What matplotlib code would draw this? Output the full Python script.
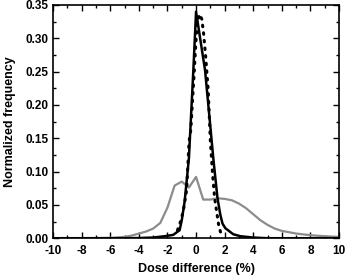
import matplotlib
matplotlib.use("Agg")
import matplotlib.pyplot as plt
from matplotlib.ticker import MultipleLocator

plt.rcParams['font.family'] = ['Liberation Sans', 'DejaVu Sans']
plt.rcParams['font.weight'] = 'bold'

# gray curve (broad distribution)
gray_x = [-10, -8, -6, -5, -4.5, -4, -3.5, -3, -2.5, -2, -1.5, -1, -0.5, 0,
          0.5, 1.0, 1.5, 2.0, 2.5, 3.0, 3.5, 4.0, 4.5, 5.0, 5.5, 6.0, 6.5,
          7.0, 8.0, 9.0, 10.0]
gray_y = [0.0, 0.0, 0.0005, 0.002, 0.004, 0.007, 0.010, 0.0145, 0.023, 0.046,
          0.079, 0.085, 0.076, 0.092, 0.058, 0.058, 0.060, 0.059, 0.057,
          0.052, 0.045, 0.036, 0.027, 0.020, 0.0145, 0.011, 0.009, 0.007,
          0.0045, 0.003, 0.002]

# black solid curve
solid_x = [-10, -5, -4, -3, -2.2, -1.6, -1.15, -1.0, -0.8, -0.5, -0.19, 0.0,
           0.63, 1.22, 1.5, 1.7, 1.85, 2.05, 2.6, 3.1, 4.0, 5.0, 10]
solid_y = [0.0, 0.0, 0.0003, 0.001, 0.003, 0.005, 0.012, 0.027, 0.055, 0.12,
           0.252, 0.34, 0.252, 0.117, 0.06, 0.035, 0.022, 0.015, 0.006,
           0.003, 0.001, 0.0, 0.0]

# black dotted curve (fit)
dot_x = [-1.3, -1.1, -0.9, -0.66, -0.49, -0.37, -0.14, -0.02, 0.1, 0.25,
         0.4, 0.52, 0.67, 0.85, 1.0, 1.16, 1.3, 1.46, 1.58, 1.7, 1.85]
dot_y = [0.012, 0.024, 0.040, 0.072, 0.145, 0.162, 0.245, 0.292, 0.325,
         0.336, 0.329, 0.309, 0.273, 0.222, 0.146, 0.095, 0.060, 0.037,
         0.020, 0.010, 0.003]

x_ticks = [-10, -8, -6, -4, -2, 0, 2, 4, 6, 8, 10]
y_ticks = [0.00, 0.05, 0.10, 0.15, 0.20, 0.25, 0.30, 0.35]

fig = plt.figure(figsize=(3.47, 2.77), dpi=100)
ax = fig.add_axes([0.153, 0.140, 0.824, 0.842])

ax.plot(gray_x, gray_y, color='#8c8c8c', lw=1.6)
ax.plot(solid_x, solid_y, color='black', lw=1.8)
ax.plot(dot_x, dot_y, color='black', lw=2.2, linestyle=(0, (0.5, 2.0)),
        dash_capstyle='round')

ax.set_xlim(-10, 10)
ax.set_ylim(0, 0.35)
ax.set_xticks(x_ticks)
ax.set_yticks(y_ticks)
ax.set_xticklabels([str(v) for v in x_ticks])
ax.set_yticklabels([f"{v:.2f}" for v in y_ticks])
ax.xaxis.set_minor_locator(MultipleLocator(1))
ax.yaxis.set_minor_locator(MultipleLocator(0.025))
ax.tick_params(which='both', direction='in', top=True, right=True,
               labelsize=8.5, width=1.0)
ax.tick_params(which='major', length=4)
ax.tick_params(which='minor', length=2)
ax.tick_params(axis='x', pad=5)
ax.tick_params(axis='y', pad=3)
for s in ax.spines.values():
    s.set_linewidth(1.2)

ax.set_xlabel("Dose difference (%)", fontsize=9, fontweight='bold', labelpad=4)
ax.set_ylabel("Normalized frequency", fontsize=9, fontweight='bold', labelpad=7)

fig.savefig("out.png", dpi=100)
